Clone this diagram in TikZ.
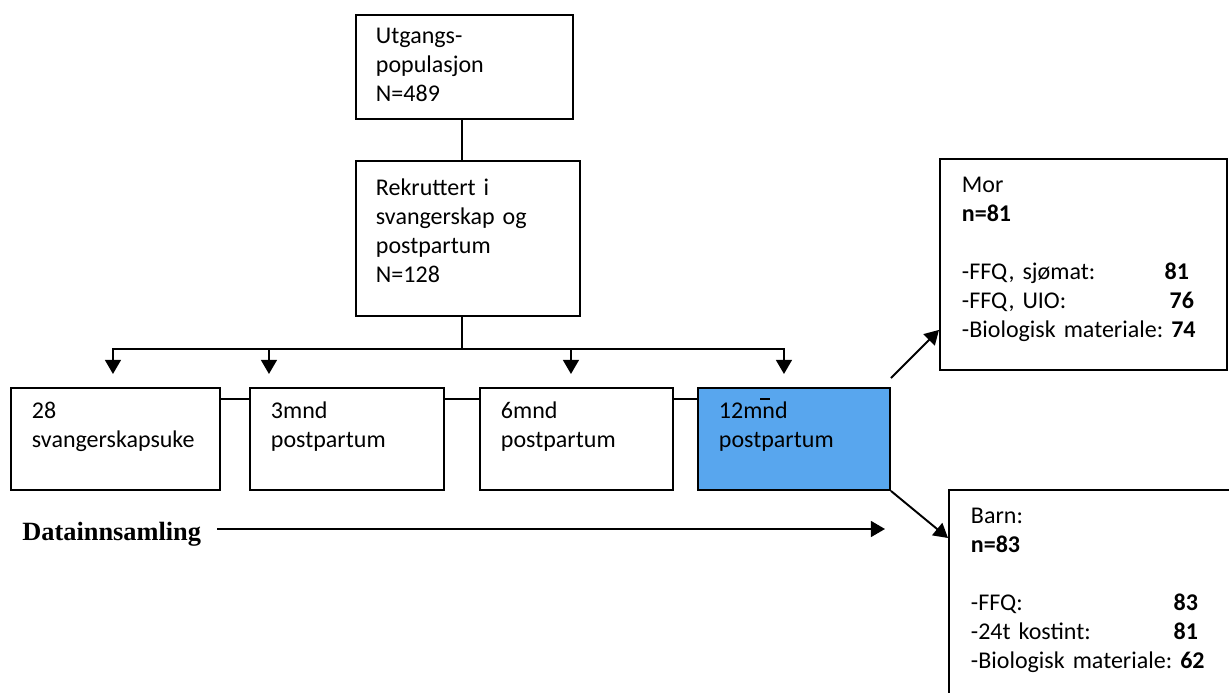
\documentclass[tikz,border=0pt]{standalone}
\usepackage{fontspec}
\setmainfont{Carlito}
\newfontfamily\datafont{Liberation Serif}
\usetikzlibrary{arrows.meta, positioning, calc}
\definecolor{mndblue}{RGB}{88,166,238}

\begin{document}
\begin{tikzpicture}[>={Triangle[length=8pt,width=9pt]},
    box/.style={rectangle, draw, line width=1.1pt, anchor=north west, align=left, inner ysep=0pt, inner xsep=0.42cm, font=\fontsize{13.66}{16.5}\selectfont\frenchspacing},
    stage/.style={box, text height=0.62cm, text depth=1.42cm},
    link/.style={line width=1.1pt},
    arr/.style={->, line width=1.1pt}]

\useasboundingbox (0,0) rectangle (24.58,-13.86);
\clip (0,0) rectangle (24.58,-13.86);

\node[box, inner xsep=0.4cm, text width=3.54cm, text height=0.58cm, text depth=1.5cm] (utg) at (7.1,-0.28) {Utgangs-\\populasjon\\N=489};
\node[box, inner xsep=0.4cm, text width=3.68cm, text height=0.7cm, text depth=2.4cm] (rek) at (7.1,-3.2) {Rekruttert i\\svangerskap og\\postpartum\\N=128};

\node[stage, text width=3.34cm] (w28) at (0.2,-7.74) {28\\svangerskapsuke};
\node[stage, text width=3.04cm] (m3) at (4.98,-7.74) {3mnd\\postpartum};
\node[stage, text width=3.02cm] (m6) at (9.58,-7.74) {6mnd\\postpartum};
\node[stage, text width=3.0cm, fill=mndblue] (m12) at (13.94,-7.74) {12m\rlap{\hspace{-0.1em}\raisebox{0.8em}{\rule{0.42em}{0.9pt}}}nd\\postpartum};

\node[box, inner xsep=0.44cm, text width=4.86cm, text height=0.68cm, text depth=3.54cm] (mor) at (18.78,-3.16) {Mor\\\textbf{n=81}\\\mbox{}\\-FFQ, sjømat:\hfill\textbf{81}\rule{0.32cm}{0pt}\\-FFQ, UIO:\hfill\textbf{76}\rule{0.22cm}{0pt}\\-Biologisk materiale: \textbf{74}};
\node[box, inner xsep=0.44cm, text width=5.38cm, text height=0.68cm, text depth=4cm] (barn) at (18.96,-9.78) {Barn:\\\textbf{n=83}\\\mbox{}\\-FFQ:\hfill\textbf{83}\rule{0.84cm}{0pt}\\-24t kostint:\hfill\textbf{81}\rule{0.84cm}{0pt}\\-Biologisk materiale: \textbf{62}};

\node[font=\datafont\bfseries\fontsize{15}{18}\selectfont, anchor=base west, inner sep=0pt] (data) at (0.44,-10.8) {Datainnsamling};
\coordinate (dend) at (17.7,-10.58);

\draw[link] ([xshift=-0.05cm]utg.south) -- ([xshift=-0.05cm]utg.south |- rek.north);
\draw[link] ([xshift=-0.12cm]rek.south) -- ++(0,-0.64) coordinate (bus);
\draw[arr] (bus) -| ([xshift=-0.05cm,yshift=0.26cm]w28.north);
\draw[arr] (bus) -| ([xshift=-1.56cm,yshift=0.26cm]m3.north);
\draw[arr] (bus) -| ([xshift=-0.11cm,yshift=0.26cm]m6.north);
\draw[arr] (bus) -| ([xshift=-0.2cm,yshift=0.26cm]m12.north);

\foreach \a/\b in {w28/m3, m3/m6, m6/m12}
  \draw[link] ([yshift=-0.24cm]\a.north east) -- ([yshift=-0.24cm]\b.north west);

\draw[arr] ([yshift=0.18cm]m12.north east) -- ([yshift=0.82cm]mor.south west);
\draw[arr] (m12.south east) -- ([yshift=-0.98cm]barn.north west);
\draw[arr] ([xshift=0.32cm,yshift=0.22cm]data.base east) -- (dend);

\end{tikzpicture}
\end{document}
